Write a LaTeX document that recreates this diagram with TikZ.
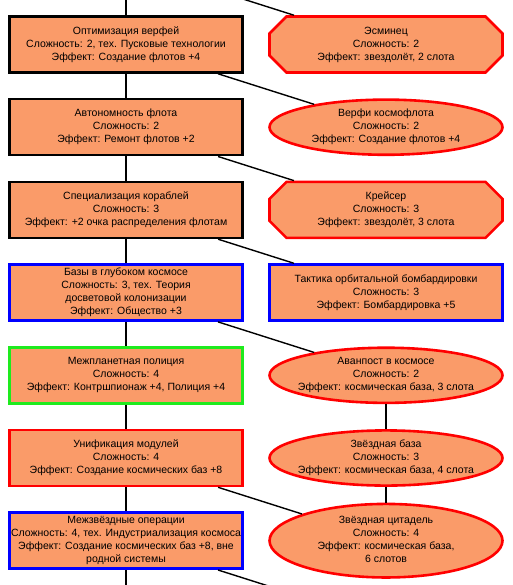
\documentclass[tikz,border=0pt]{standalone}
\usepackage{fontspec}
\setmainfont{Liberation Sans}
\usetikzlibrary{shapes.geometric, shapes.misc, positioning}
\definecolor{zalivka}{RGB}{250,155,105}
\definecolor{zelen}{RGB}{30,235,30}
\newcommand{\ntxt}[1]{\makebox[0pt]{\begin{tabular}{@{}c@{}}#1\end{tabular}}}
\tikzset{
  tech/.style={rectangle, draw=black, fill=zalivka, line width=2.6pt,
    minimum width=233pt, minimum height=56pt, inner sep=0pt,
    font=\fontsize{10.5}{13}\selectfont},
  korpus/.style={tech, chamfered rectangle, chamfered rectangle xsep=17pt,
    chamfered rectangle ysep=17pt, draw=red},
  modul/.style={tech, ellipse, draw=red, minimum height=55pt},
  svyaz/.style={line width=1.4pt, color=black}
}
\begin{document}
\begin{tikzpicture}[x=1pt, y=-1pt, node distance=24.1pt and 24.4pt]
  \useasboundingbox (0,0) rectangle (512,585);
  \clip (0,0) rectangle (512,585);
  \node[tech] (verfi) at (126,44.5)
    {\ntxt{Оптимизация верфей\\Сложность: 2, тех. Пусковые технологии\\Эффект: Создание флотов +4}};
  \node[tech, below=of verfi] (avtonom)
    {\ntxt{Автономность флота\\Сложность: 2\\Эффект: Ремонт флотов +2}};
  \node[tech, below=of avtonom] (spec)
    {\ntxt{Специализация кораблей\\Сложность: 3\\Эффект: +2 очка распределения флотам}};
  \node[tech, draw=blue, below=of spec] (bazy)
    {\ntxt{Базы в глубоком космосе\\Сложность: 3, тех. Теория\\досветовой колонизации\\Эффект: Общество +3}};
  \node[tech, draw=zelen, below=of bazy] (policiya)
    {\ntxt{Межпланетная полиция\\Сложность: 4\\Эффект: Контршпионаж +4, Полиция +4}};
  \node[tech, draw=red, below=of policiya] (unifik)
    {\ntxt{Унификация модулей\\Сложность: 4\\Эффект: Создание космических баз +8}};
  \node[tech, draw=blue, below=of unifik] (operacii)
    {\ntxt{Межзвёздные операции\\Сложность: 4, тех. Индустриализация космоса\\Эффект: Создание космических баз +8, вне\\родной системы}};

  \node[korpus, right=of verfi] (esminec)
    {\ntxt{Эсминец\\Сложность: 2\\Эффект: звездолёт, 2 слота}};
  \node[modul, right=of avtonom] (kverfi)
    {\ntxt{Верфи космофлота\\Сложность: 2\\Эффект: Создание флотов +4}};
  \node[korpus, right=of spec] (kreiser)
    {\ntxt{Крейсер\\Сложность: 3\\Эффект: звездолёт, 3 слота}};
  \node[tech, draw=blue, right=of bazy] (taktika)
    {\ntxt{Тактика орбитальной бомбардировки\\Сложность: 3\\Эффект: Бомбардировка +5}};
  \node[modul, right=of policiya] (avanpost)
    {\ntxt{Аванпост в космосе\\Сложность: 2\\Эффект: космическая база, 3 слота}};
  \node[modul, right=of unifik] (zbaza)
    {\ntxt{Звёздная база\\Сложность: 3\\Эффект: космическая база, 4 слота}};
  \node[modul, right=of operacii] (citadel)
    {\ntxt{Звёздная цитадель\\Сложность: 4\\Эффект: космическая база,\\6 слотов}};

  \coordinate (prev) at (126,-38.2);
  \coordinate (sled) at (126,623.4);
  \coordinate (sledr) at (386,623.4);

  \draw[svyaz] (prev) -- (verfi);
  \draw[svyaz] (verfi) -- (avtonom);
  \draw[svyaz] (avtonom) -- (spec);
  \draw[svyaz] (spec) -- (bazy);
  \draw[svyaz] (bazy) -- (policiya);
  \draw[svyaz] (policiya) -- (unifik);
  \draw[svyaz] (unifik) -- (operacii);
  \draw[svyaz] (operacii) -- (sled);
  \draw[svyaz] (prev) -- (esminec);
  \draw[svyaz] (verfi) -- (kverfi);
  \draw[svyaz] (avtonom) -- (kreiser);
  \draw[svyaz] (spec) -- (taktika);
  \draw[svyaz] (bazy) -- (avanpost);
  \draw[svyaz] (unifik) -- (citadel);
  \draw[svyaz] (operacii) -- (sledr);
  \draw[svyaz] (avanpost) -- (zbaza);
  \draw[svyaz] (zbaza) -- (citadel);
\end{tikzpicture}
\end{document}
